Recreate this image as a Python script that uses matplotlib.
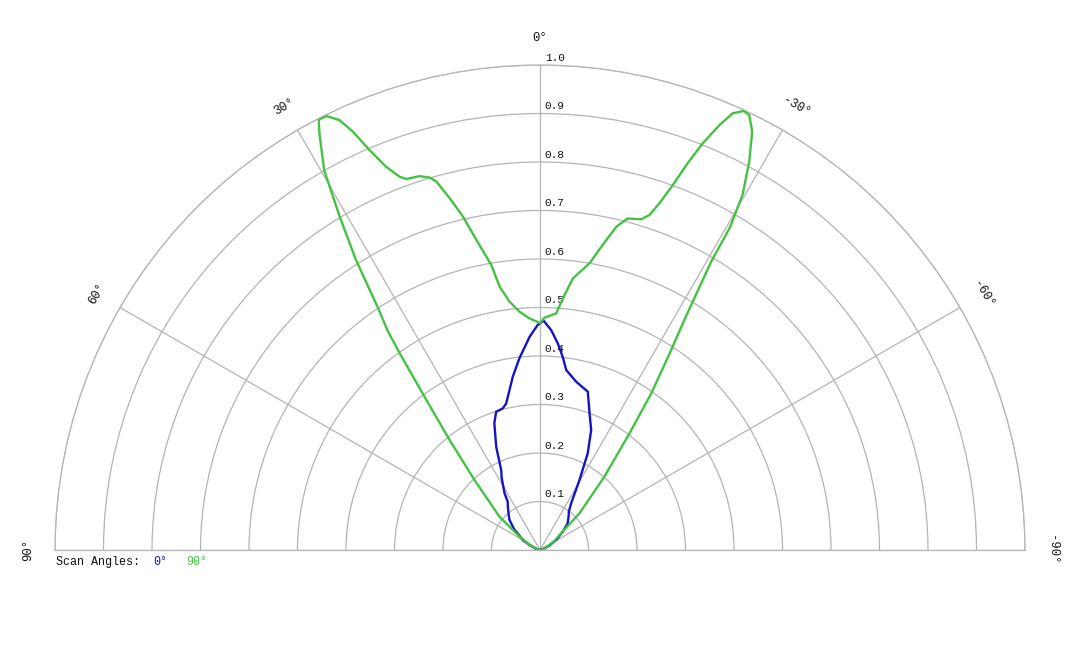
import numpy as np
import matplotlib
matplotlib.use("Agg")
import matplotlib.pyplot as plt

# ---- data (angles in degrees, normalised intensity) ----
green_angles = [-90, -75, -65, -58, -52.4, -47.1, -41.3, -37.5, -35.4, -33.4, -32.1, -31.6,
                -30.7, -30.5, -29.7, -28.3, -26.9, -25.7, -24.9, -23.8, -22.9, -21.8, -20.9,
                -20.0, -19.0, -18.1, -17.0, -14.8, -13.3, -11.6, -9.8, -6.9, -5.2, -3.9, -1.1,
                0.0, 2.6, 4.9, 7.0, 8.7, 9.7, 11.6, 13.0, 14.4, 15.7, 16.5, 17.9, 19.8, 20.6,
                21.9, 23.1, 24.1, 25.0, 26.2, 27.2, 27.9, 29.6, 31.0, 32.4, 33.8, 34.8, 35.5,
                37.0, 39.4, 43.1, 50.6, 57.0, 65, 75, 90]
green_values = [0.0, 0.005, 0.015, 0.035, 0.051, 0.111, 0.201, 0.303, 0.396, 0.486, 0.56, 0.601,
                0.691, 0.77, 0.843, 0.91, 0.967, 0.995, 0.998, 0.984, 0.951, 0.903, 0.854,
                0.801, 0.756, 0.727, 0.713, 0.707, 0.685, 0.642, 0.60, 0.564, 0.521, 0.489, 0.479,
                0.468, 0.478, 0.493, 0.516, 0.549, 0.596, 0.653, 0.705, 0.749, 0.789, 0.801, 0.810,
                0.813, 0.822, 0.852, 0.897, 0.945, 0.978, 0.997, 0.998, 0.972, 0.901, 0.802, 0.708,
                0.60, 0.55, 0.498, 0.396, 0.294, 0.198, 0.108, 0.05, 0.02, 0.005, 0.0]

blue_angles = [-90, -75, -65, -58, -51.2, -46.2, -40.0, -36.9, -33.7, -29.4, -26.3, -23.1, -19.9,
               -16.8, -12.1, -8.3, -6.7, -4.9, -2.9, -0.9, 0.6, 2.8, 6.1, 8.9, 13.0, 14.7, 17.6,
               19.8, 23.0, 25.9, 27.8, 32.0, 33.7, 36.6, 41.7, 45.5, 47.2, 51.4, 53.5, 59.8,
               64.5, 75, 90]
blue_values = [0.0, 0.005, 0.02, 0.04, 0.06, 0.079, 0.092, 0.099, 0.116, 0.166, 0.222, 0.269, 0.30,
               0.341, 0.355, 0.375, 0.401, 0.428, 0.454, 0.473, 0.464, 0.44, 0.398, 0.362, 0.31,
               0.302, 0.299, 0.278, 0.231, 0.183, 0.17, 0.138, 0.12, 0.111, 0.097, 0.088, 0.081,
               0.068, 0.057, 0.041, 0.024, 0.008, 0.0]

theta_ticks = [90, 60, 30, 0, -30, -60, -90]
theta_labels = ["90°", "60°", "30°", "0°", "-30°", "-60°", "-90°"]
r_ticks = [0.1, 0.2, 0.3, 0.4, 0.5, 0.6, 0.7, 0.8, 0.9, 1.0]
r_labels = ["0.1", "0.2", "0.3", "0.4", "0.5", "0.6", "0.7", "0.8", "0.9", "1.0"]
series_names = ["0°", "90°"]

BLUE = "#1414c4"
GREEN = "#44c244"
GRID = "#b4b4b4"
TXT = "#111111"
FONT = "Liberation Mono"

fig = plt.figure(figsize=(10.8, 6.48), dpi=100)
W, H = 1080, 648
cx, cy, R = 540, 550, 485
S = 2 * R                      # square axes box; half-disc is centred vertically in it
box_top = cy - 0.75 * S
ax = fig.add_axes([(cx - R) / W, (H - (box_top + S)) / H, S / W, S / H], projection="polar")
ax.set_theta_zero_location("N")
ax.set_theta_direction(1)
ax.set_thetamin(-90)
ax.set_thetamax(90)
ax.set_ylim(0, 1.0)

ax.set_thetagrids(theta_ticks, labels=[""] * len(theta_ticks))
ax.set_rgrids(r_ticks, labels=[""] * len(r_ticks))
ax.grid(True, color=GRID, linewidth=0.9)
for s in ax.spines.values():
    s.set_color(GRID)
    s.set_linewidth(0.9)
ax.tick_params(length=0)

ax.plot(np.deg2rad(blue_angles), blue_values, color=BLUE, linewidth=1.7, zorder=3)
ax.plot(np.deg2rad(green_angles), green_values, color=GREEN, linewidth=1.7, zorder=4)

for t, lab in zip(theta_ticks, theta_labels):
    ax.text(np.deg2rad(t), 1.055, lab, rotation=t,
            ha="center", va="center", fontsize=8.8, family=FONT, color=TXT, clip_on=False)

for r, lab in zip(r_ticks, r_labels):
    ax.annotate(lab, xy=(0, r), xytext=(3.5, 1.5), textcoords="offset points",
                ha="left", va="bottom", fontsize=8, family=FONT, color=TXT,
                annotation_clip=False)

ly = 1 - 562 / H
fig.text(56 / W, ly, "Scan Angles:", fontsize=8.5, family=FONT, color=TXT, va="center", ha="left")
fig.text(153 / W, ly, series_names[0], fontsize=8.5, family=FONT, color=BLUE, va="center", ha="left")
fig.text(186 / W, ly, series_names[1], fontsize=8.5, family=FONT, color=GREEN, va="center", ha="left")

fig.savefig("out.png", dpi=100, facecolor="white")
